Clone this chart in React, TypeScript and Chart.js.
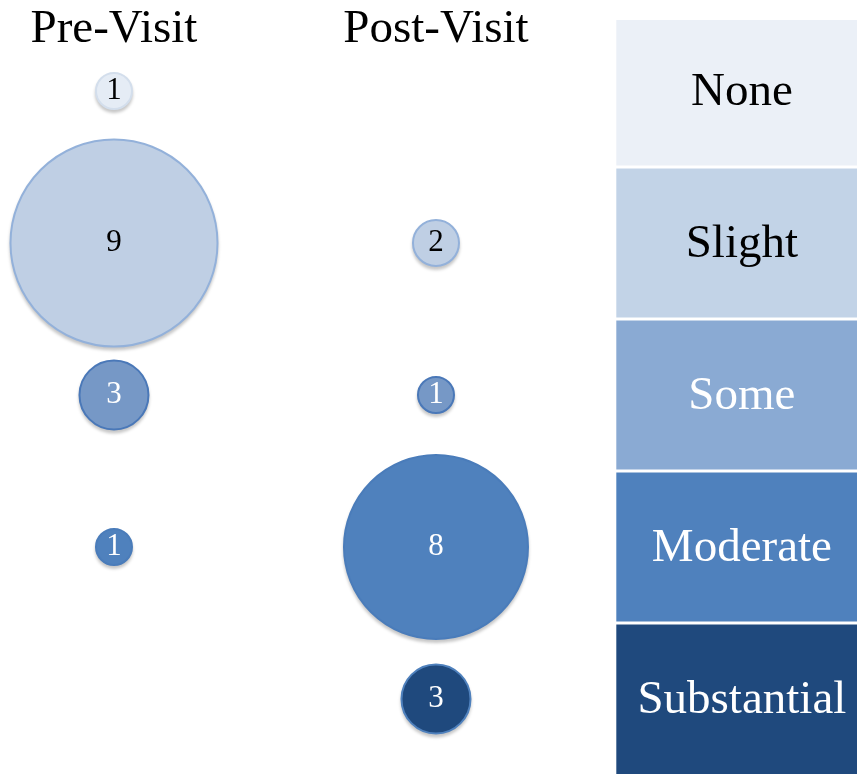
import React, { useEffect, useRef } from "react";
import { Chart, registerables } from "chart.js";

Chart.register(...registerables);

// ---- data ----
const levels = ["None", "Slight", "Some", "Moderate", "Substantial"];
const visits = ["Pre-Visit", "Post-Visit"];
const preCounts = [1, 9, 3, 1, 0];
const postCounts = [0, 2, 1, 8, 3];

// ---- styles ----
const boxColors = ["#EBF0F7", "#C2D3E7", "#8AAAD3", "#4F81BD", "#1F497D"];
const bubbleFills = ["#E5ECF5", "#BFCFE4", "#7698C6", "#4F81BD", "#1F497D"];
const bubbleBorders = ["#D3DEEC", "#93B1DA", "#4A78B8", "#4A7CBA", "#4F81BD"];
const textColors = ["#000000", "#000000", "#FFFFFF", "#FFFFFF", "#FFFFFF"];
const FONT = "'Liberation Serif', 'Times New Roman', serif";
const LEGEND_X = 1.95;
const LEGEND_HALF = 0.39;

const radiusFor = (v: number) => Math.max(18, 11.5 * v);

function buildPoints(counts: number[], xIndex: number) {
  const pts: any[] = [];
  counts.forEach((c, row) => {
    if (c > 0) pts.push({ x: xIndex, y: row, r: radiusFor(c), count: c, row });
  });
  return pts;
}

const customPlugin = {
  id: "custom",
  beforeDraw(chart: any) {
    const { ctx, scales, chartArea } = chart;
    const xs = scales.x;
    const ys = scales.y;
    ctx.save();
    ctx.fillStyle = "#FFFFFF";
    ctx.fillRect(0, 0, chart.width, chart.height);
    const left = xs.getPixelForValue(LEGEND_X - LEGEND_HALF);
    const right = xs.getPixelForValue(LEGEND_X + LEGEND_HALF);
    const cx = xs.getPixelForValue(LEGEND_X);
    levels.forEach((lvl, i) => {
      let top = ys.getPixelForValue(i - 0.5) + 1.5;
      let bottom = ys.getPixelForValue(i + 0.5) - 1.5;
      if (i === 0) top = 20;
      if (i === levels.length - 1) bottom = chartArea.bottom;
      ctx.fillStyle = boxColors[i];
      ctx.fillRect(left, top, right - left, bottom - top);
      ctx.fillStyle = textColors[i];
      ctx.font = `47px ${FONT}`;
      ctx.textAlign = "center";
      ctx.textBaseline = "middle";
      ctx.fillText(lvl, cx, ys.getPixelForValue(i) + 2);
    });
    // column headers
    ctx.fillStyle = "#000000";
    ctx.font = `47px ${FONT}`;
    ctx.textAlign = "center";
    ctx.textBaseline = "alphabetic";
    visits.forEach((v, i) => {
      ctx.fillText(v, xs.getPixelForValue(i), 42);
    });
    ctx.restore();
  },
  beforeDatasetsDraw(chart: any) {
    const { ctx } = chart;
    ctx.save();
    ctx.filter = "blur(1.5px)";
    ctx.fillStyle = "rgba(0,0,0,0.22)";
    chart.data.datasets.forEach((ds: any, di: number) => {
      const meta = chart.getDatasetMeta(di);
      meta.data.forEach((el: any, pi: number) => {
        const r = ds.data[pi].r;
        ctx.beginPath();
        ctx.arc(el.x, el.y + 3, r + 1, 0, Math.PI * 2);
        ctx.fill();
      });
    });
    ctx.restore();
  },
  afterDatasetsDraw(chart: any) {
    const { ctx } = chart;
    ctx.save();
    ctx.font = `31px ${FONT}`;
    ctx.textAlign = "center";
    ctx.textBaseline = "middle";
    chart.data.datasets.forEach((ds: any, di: number) => {
      const meta = chart.getDatasetMeta(di);
      meta.data.forEach((el: any, pi: number) => {
        const p = ds.data[pi];
        ctx.fillStyle = textColors[p.row];
        ctx.fillText(String(p.count), el.x, el.y);
      });
    });
    ctx.restore();
  },
};

export default function App() {
  const ref = useRef<HTMLCanvasElement | null>(null);
  useEffect(() => {
    document.body.style.margin = "0";
    if (!ref.current) return;
    const mk = (counts: number[], xi: number, label: string) => {
      const data = buildPoints(counts, xi);
      return {
        label,
        data,
        backgroundColor: data.map((p) => bubbleFills[p.row]),
        borderColor: data.map((p) => bubbleBorders[p.row]),
        borderWidth: 2,
        clip: false as any,
      };
    };
    const chart = new Chart(ref.current, {
      type: "bubble",
      data: {
        datasets: [mk(preCounts, 0, visits[0]), mk(postCounts, 1, visits[1])],
      },
      options: {
        animation: false,
        responsive: false,
        events: [],
        layout: { padding: 0, autoPadding: false },
        plugins: {
          legend: { display: false },
          tooltip: { enabled: false },
          title: { display: false },
        },
        scales: {
          x: { type: "linear", min: -0.354, max: 2.3075, display: false },
          y: { type: "linear", min: -0.5987, max: 4.4934, reverse: true, display: false },
        },
      },
      plugins: [customPlugin],
    });
    return () => chart.destroy();
  }, []);
  return (
    <canvas ref={ref} width={857} height={774} style={{ display: "block" }} />
  );
}
